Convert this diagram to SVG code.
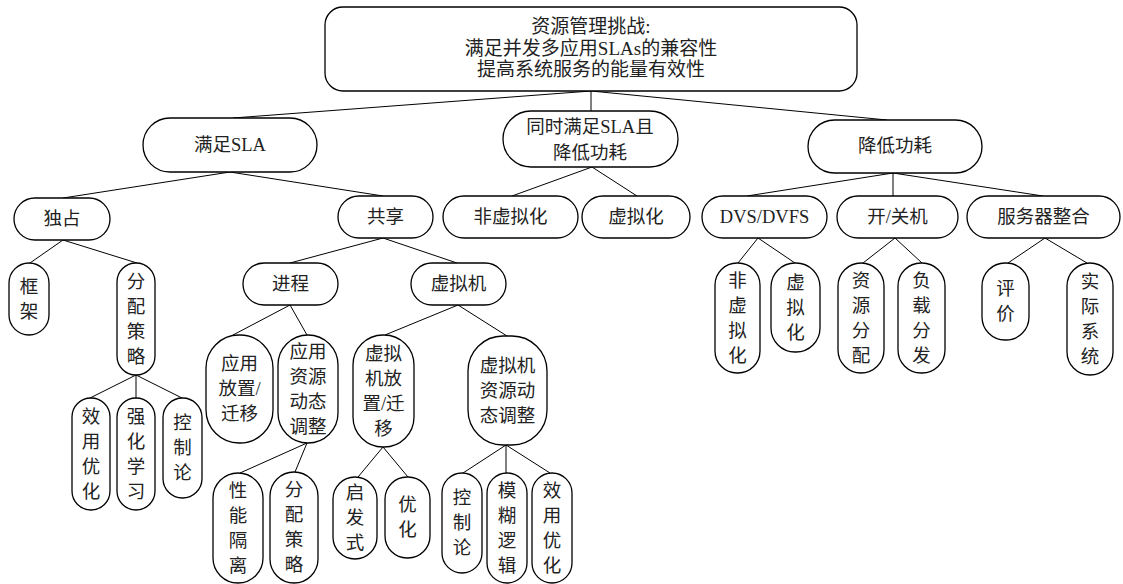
<svg xmlns="http://www.w3.org/2000/svg" width="1123" height="584" viewBox="0 0 1123 584">
<style>
.n{fill:#fff;stroke:#000;stroke-width:1.3}
.c line{stroke:#000;stroke-width:1}
.t{font-family:"Liberation Serif","Noto Sans CJK SC",serif;font-size:18.5px;text-anchor:middle;dominant-baseline:central;fill:#222}
.r{font-size:19px}
</style>
<rect width="1123" height="584" fill="#fff"/>
<g class="c" id="connectors">
<line x1="591" y1="91" x2="233" y2="118"/>
<line x1="591" y1="91" x2="591" y2="111"/>
<line x1="591" y1="91" x2="887" y2="120"/>
<line x1="230" y1="172" x2="63" y2="198"/>
<line x1="230" y1="172" x2="383" y2="196"/>
<line x1="592" y1="167" x2="512" y2="196"/>
<line x1="592" y1="167" x2="637" y2="196"/>
<line x1="893" y1="173" x2="747" y2="196"/>
<line x1="893" y1="173" x2="893" y2="196"/>
<line x1="893" y1="173" x2="1043" y2="196"/>
<line x1="63" y1="240" x2="30" y2="263"/>
<line x1="63" y1="240" x2="137" y2="263"/>
<line x1="383" y1="238" x2="290" y2="263"/>
<line x1="383" y1="238" x2="457" y2="263"/>
<line x1="136" y1="375" x2="90" y2="398"/>
<line x1="136" y1="375" x2="136" y2="398"/>
<line x1="136" y1="375" x2="182" y2="398"/>
<line x1="290" y1="305" x2="233" y2="335"/>
<line x1="290" y1="305" x2="307" y2="335"/>
<line x1="458" y1="305" x2="385" y2="335"/>
<line x1="458" y1="305" x2="507" y2="336"/>
<line x1="307" y1="443" x2="240" y2="473"/>
<line x1="307" y1="443" x2="295" y2="472"/>
<line x1="383" y1="447" x2="358" y2="477"/>
<line x1="383" y1="447" x2="408" y2="477"/>
<line x1="506" y1="445" x2="463" y2="473"/>
<line x1="506" y1="445" x2="506" y2="473"/>
<line x1="506" y1="445" x2="550" y2="473"/>
<line x1="758" y1="238" x2="738" y2="263"/>
<line x1="758" y1="238" x2="795" y2="263"/>
<line x1="895" y1="238" x2="863" y2="263"/>
<line x1="895" y1="238" x2="922" y2="263"/>
<line x1="1045" y1="238" x2="1008" y2="263"/>
<line x1="1045" y1="238" x2="1087" y2="263"/>
</g>
<g id="root"><rect class="n" x="325" y="7" width="532" height="84" rx="18"/>
<text class="t r" x="591"><tspan x="591" y="26">资源管理挑战:</tspan><tspan x="591" y="48">满足并发多应用SLAs的兼容性</tspan><tspan x="591" y="69">提高系统服务的能量有效性</tspan></text></g>
<g id="n_sla"><rect class="n" x="143" y="118" width="174" height="54" rx="27"/><text class="t" x="230" y="145">满足SLA</text></g>
<g id="n_both"><rect class="n" x="503" y="111" width="175" height="56" rx="28"/><text class="t"><tspan x="590" y="127">同时满足SLA且</tspan><tspan x="590" y="153">降低功耗</tspan></text></g>
<g id="n_power"><rect class="n" x="808" y="120" width="174" height="53" rx="26.5"/><text class="t" x="895" y="146">降低功耗</text></g>
<g id="n_excl"><rect class="n" x="14" y="198" width="96" height="42" rx="21"/><text class="t" x="62" y="219">独占</text></g>
<g id="n_share"><rect class="n" x="338" y="196" width="95" height="42" rx="21"/><text class="t" x="385.5" y="217">共享</text></g>
<g id="n_nonvirt"><rect class="n" x="443" y="196" width="135" height="42" rx="21"/><text class="t" x="510.5" y="217">非虚拟化</text></g>
<g id="n_virt"><rect class="n" x="582" y="196" width="108" height="42" rx="21"/><text class="t" x="636" y="217">虚拟化</text></g>
<g id="n_dvs"><rect class="n" x="702" y="196" width="125" height="42" rx="21"/><text class="t" x="764.5" y="217">DVS/DVFS</text></g>
<g id="n_onoff"><rect class="n" x="837" y="196" width="121" height="42" rx="21"/><text class="t" x="897.5" y="217">开/关机</text></g>
<g id="n_consol"><rect class="n" x="967" y="196" width="153" height="42" rx="21"/><text class="t" x="1043.5" y="217">服务器整合</text></g>
<g id="n_frame"><rect class="n" x="9" y="263" width="40" height="72" rx="20"/><text class="t"><tspan x="29" y="287">框</tspan><tspan x="29" y="312">架</tspan></text></g>
<g id="n_alloc1"><rect class="n" x="117" y="263" width="38" height="112" rx="19"/><text class="t"><tspan x="136" y="281.5">分</tspan><tspan x="136" y="306.5">配</tspan><tspan x="136" y="331.5">策</tspan><tspan x="136" y="356.5">略</tspan></text></g>
<g id="n_util1"><rect class="n" x="72" y="398" width="38" height="112" rx="19"/><text class="t"><tspan x="91" y="416.5">效</tspan><tspan x="91" y="441.5">用</tspan><tspan x="91" y="466.5">优</tspan><tspan x="91" y="491.5">化</tspan></text></g>
<g id="n_rl"><rect class="n" x="117" y="398" width="38" height="112" rx="19"/><text class="t"><tspan x="136" y="416.5">强</tspan><tspan x="136" y="441.5">化</tspan><tspan x="136" y="466.5">学</tspan><tspan x="136" y="491.5">习</tspan></text></g>
<g id="n_ctrl1"><rect class="n" x="163" y="398" width="39" height="100" rx="19.5"/><text class="t"><tspan x="182.5" y="423">控</tspan><tspan x="182.5" y="448">制</tspan><tspan x="182.5" y="473">论</tspan></text></g>
<g id="n_proc"><rect class="n" x="243" y="263" width="95" height="42" rx="21"/><text class="t" x="290.5" y="284">进程</text></g>
<g id="n_vm"><rect class="n" x="411" y="263" width="95" height="42" rx="21"/><text class="t" x="458.5" y="284">虚拟机</text></g>
<g id="n_appplace"><rect class="n" x="206" y="335" width="67" height="108" rx="33"/><text class="t"><tspan x="239.5" y="364">应用</tspan><tspan x="239.5" y="389">放置/</tspan><tspan x="239.5" y="414">迁移</tspan></text></g>
<g id="n_appdyn"><rect class="n" x="278" y="335" width="60" height="108" rx="30"/><text class="t"><tspan x="308" y="351.5">应用</tspan><tspan x="308" y="376.5">资源</tspan><tspan x="308" y="401.5">动态</tspan><tspan x="308" y="426.5">调整</tspan></text></g>
<g id="n_vmplace"><rect class="n" x="353" y="335" width="61" height="112" rx="30"/><text class="t"><tspan x="383.5" y="353.5">虚拟</tspan><tspan x="383.5" y="378.5">机放</tspan><tspan x="383.5" y="403.5">置/迁</tspan><tspan x="383.5" y="428.5">移</tspan></text></g>
<g id="n_vmdyn"><rect class="n" x="468" y="336" width="79" height="109" rx="35"/><text class="t"><tspan x="507.5" y="365.5">虚拟机</tspan><tspan x="507.5" y="390.5">资源动</tspan><tspan x="507.5" y="415.5">态调整</tspan></text></g>
<g id="n_iso"><rect class="n" x="213" y="473" width="50" height="110" rx="25"/><text class="t"><tspan x="238" y="490.5">性</tspan><tspan x="238" y="515.5">能</tspan><tspan x="238" y="540.5">隔</tspan><tspan x="238" y="565.5">离</tspan></text></g>
<g id="n_alloc2"><rect class="n" x="270" y="472" width="48" height="111" rx="24"/><text class="t"><tspan x="294" y="490">分</tspan><tspan x="294" y="515">配</tspan><tspan x="294" y="540">策</tspan><tspan x="294" y="565">略</tspan></text></g>
<g id="n_heur"><rect class="n" x="333" y="477" width="44" height="82" rx="22"/><text class="t"><tspan x="355" y="493">启</tspan><tspan x="355" y="518">发</tspan><tspan x="355" y="543">式</tspan></text></g>
<g id="n_opt"><rect class="n" x="385" y="477" width="45" height="81" rx="22"/><text class="t"><tspan x="407.5" y="505">优</tspan><tspan x="407.5" y="530">化</tspan></text></g>
<g id="n_ctrl2"><rect class="n" x="442" y="473" width="40" height="100" rx="20"/><text class="t"><tspan x="462" y="498">控</tspan><tspan x="462" y="523">制</tspan><tspan x="462" y="548">论</tspan></text></g>
<g id="n_fuzzy"><rect class="n" x="487" y="473" width="40" height="110" rx="20"/><text class="t"><tspan x="507" y="490.5">模</tspan><tspan x="507" y="515.5">糊</tspan><tspan x="507" y="540.5">逻</tspan><tspan x="507" y="565.5">辑</tspan></text></g>
<g id="n_util2"><rect class="n" x="532" y="473" width="40" height="110" rx="20"/><text class="t"><tspan x="552" y="490.5">效</tspan><tspan x="552" y="515.5">用</tspan><tspan x="552" y="540.5">优</tspan><tspan x="552" y="565.5">化</tspan></text></g>
<g id="n_nonvirt2"><rect class="n" x="715" y="263" width="45" height="110" rx="22"/><text class="t"><tspan x="737.5" y="280.5">非</tspan><tspan x="737.5" y="305.5">虚</tspan><tspan x="737.5" y="330.5">拟</tspan><tspan x="737.5" y="355.5">化</tspan></text></g>
<g id="n_virt2"><rect class="n" x="771" y="263" width="49" height="89" rx="24"/><text class="t"><tspan x="795.5" y="282.5">虚</tspan><tspan x="795.5" y="307.5">拟</tspan><tspan x="795.5" y="332.5">化</tspan></text></g>
<g id="n_resalloc"><rect class="n" x="838" y="263" width="46" height="110" rx="23"/><text class="t"><tspan x="861" y="280.5">资</tspan><tspan x="861" y="305.5">源</tspan><tspan x="861" y="330.5">分</tspan><tspan x="861" y="355.5">配</tspan></text></g>
<g id="n_loaddist"><rect class="n" x="898" y="263" width="47" height="110" rx="23"/><text class="t"><tspan x="921.5" y="280.5">负</tspan><tspan x="921.5" y="305.5">载</tspan><tspan x="921.5" y="330.5">分</tspan><tspan x="921.5" y="355.5">发</tspan></text></g>
<g id="n_eval"><rect class="n" x="982" y="263" width="47" height="77" rx="23"/><text class="t"><tspan x="1005.5" y="289">评</tspan><tspan x="1005.5" y="314">价</tspan></text></g>
<g id="n_real"><rect class="n" x="1067" y="263" width="46" height="112" rx="23"/><text class="t"><tspan x="1090" y="281.5">实</tspan><tspan x="1090" y="306.5">际</tspan><tspan x="1090" y="331.5">系</tspan><tspan x="1090" y="356.5">统</tspan></text></g>
</svg>
